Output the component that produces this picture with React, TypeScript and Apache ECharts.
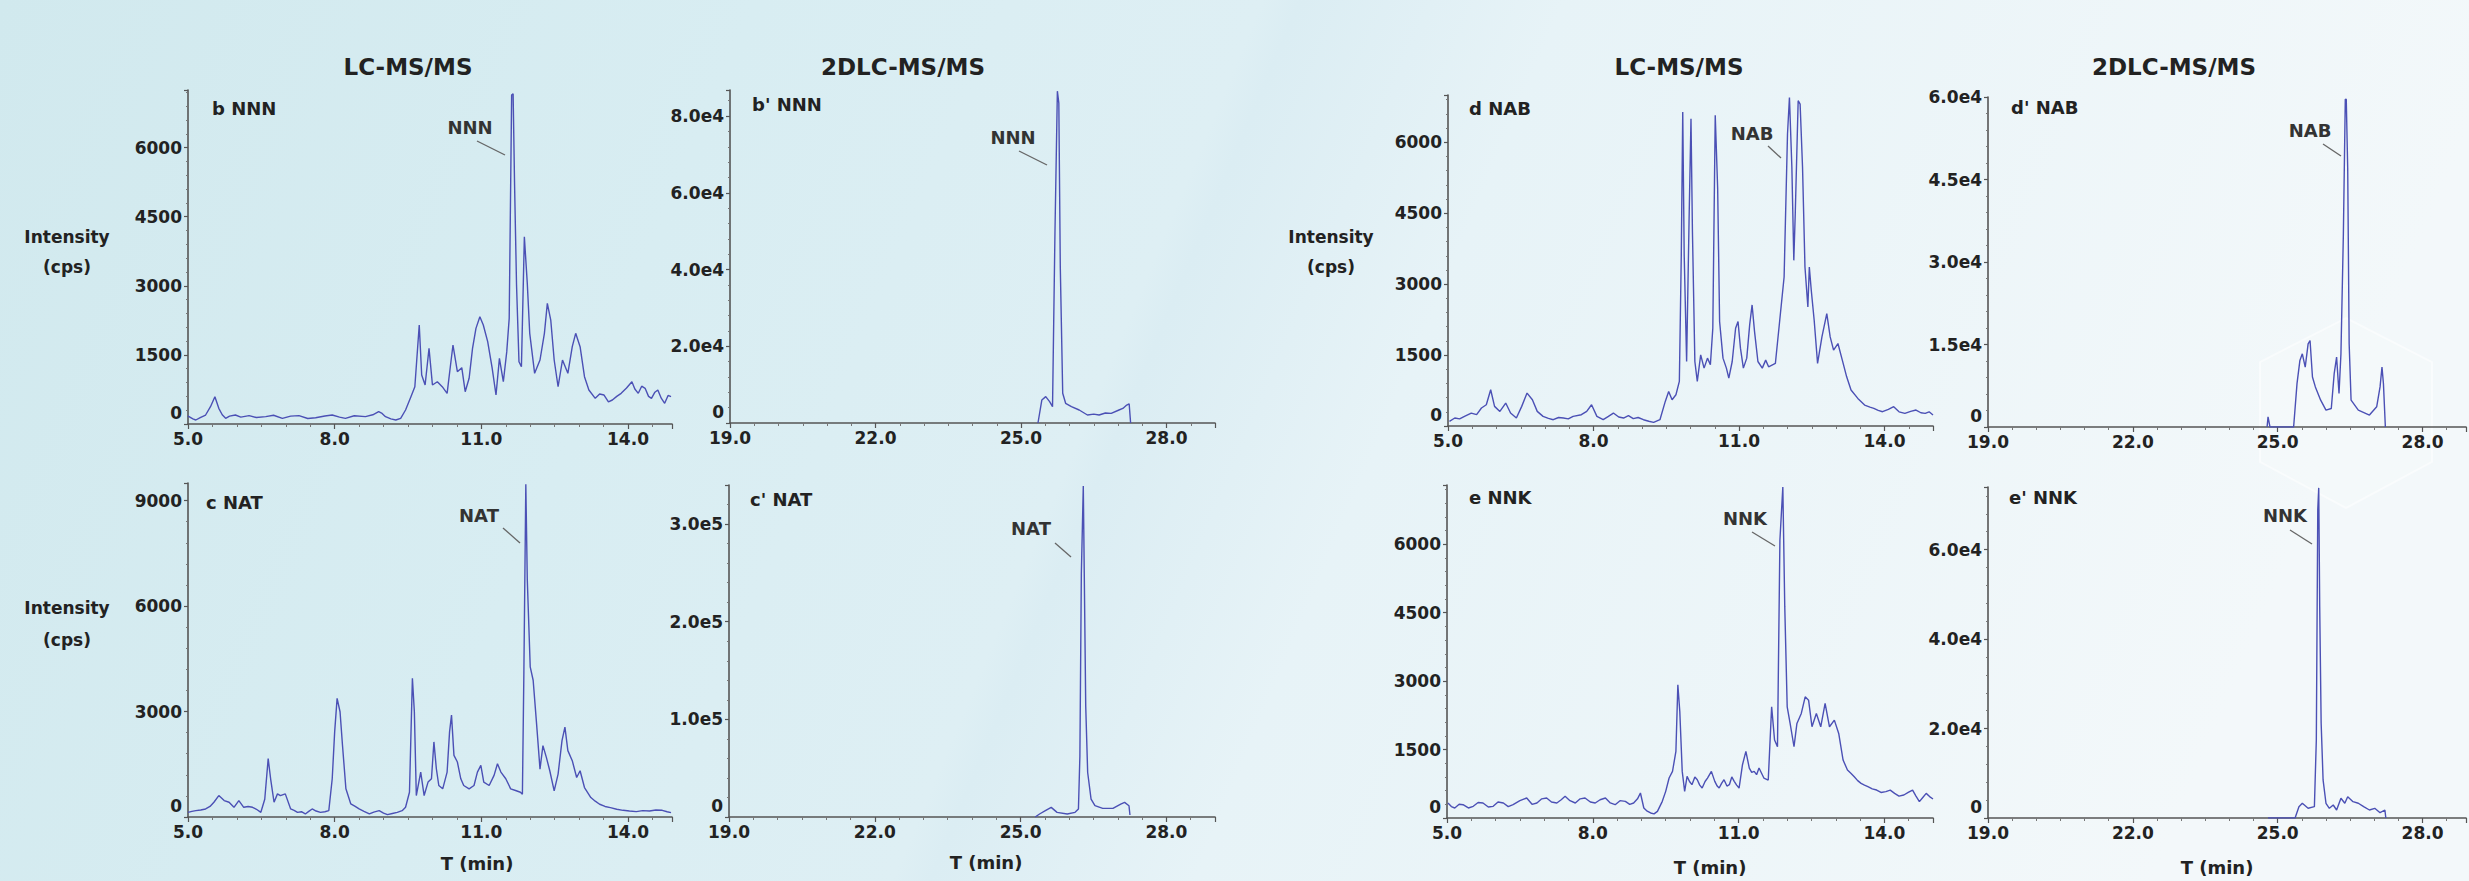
import React, { useEffect, useRef } from "react";
import * as echarts from "echarts";

// ---- data: [time (min), intensity (cps)] ----
const NNN_LC = [[5.0,180],[5.02,159],[5.1,110],[5.16,87],[5.25,140],[5.36,195],[5.46,376],[5.55,593],[5.63,340],[5.7,200],[5.77,123],[5.85,170],[5.97,195],[6.08,150],[6.25,181],[6.4,140],[6.59,159],[6.75,190],[6.93,123],[7.1,170],[7.27,181],[7.45,120],[7.61,137],[7.8,175],[7.95,195],[8.1,150],[8.22,123],[8.4,180],[8.63,159],[8.78,200],[8.9,268],[8.97,230],[9.04,159],[9.15,110],[9.25,87],[9.35,123],[9.45,304],[9.56,593],[9.64,810],[9.73,2148],[9.78,1063],[9.85,846],[9.93,1642],[10.0,846],[10.1,918],[10.2,810],[10.3,666],[10.37,1280],[10.42,1714],[10.51,1135],[10.6,1222],[10.67,701],[10.75,992],[10.82,1642],[10.89,2076],[10.97,2329],[11.04,2148],[11.13,1787],[11.22,1222],[11.3,629],[11.37,1425],[11.45,918],[11.52,1570],[11.57,2293],[11.62,7139],[11.65,7170],[11.68,5186],[11.72,3016],[11.77,1352],[11.82,1244],[11.88,4065],[11.94,3053],[11.99,1968],[12.09,1100],[12.2,1389],[12.29,1968],[12.35,2619],[12.42,2257],[12.49,1389],[12.57,809],[12.66,1389],[12.77,1100],[12.86,1678],[12.93,1968],[13.02,1678],[13.11,1027],[13.2,738],[13.33,557],[13.42,650],[13.51,629],[13.6,480],[13.68,521],[13.77,600],[13.86,666],[13.97,780],[14.08,918],[14.14,760],[14.21,666],[14.28,820],[14.35,775],[14.42,600],[14.48,557],[14.55,690],[14.61,738],[14.68,560],[14.75,449],[14.82,620],[14.88,593]];

const NNN_2D = [[25.35,0],[25.43,6000],[25.51,6870],[25.59,5560],[25.65,4260],[25.7,49460],[25.75,86500],[25.78,83370],[25.81,40770],[25.86,7740],[25.92,5130],[26.04,4260],[26.2,3390],[26.37,2090],[26.5,2300],[26.61,2090],[26.74,2600],[26.86,2520],[27.02,3390],[27.1,3800],[27.18,4690],[27.23,5000],[27.26,0]];

const NAT_LC = [[5.0,133],[5.08,160],[5.16,181],[5.26,200],[5.36,229],[5.45,300],[5.53,419],[5.63,610],[5.74,467],[5.84,419],[5.94,276],[6.04,467],[6.14,276],[6.23,300],[6.32,276],[6.4,220],[6.49,133],[6.57,505],[6.64,1659],[6.69,1087],[6.76,419],[6.83,658],[6.89,610],[6.99,658],[7.1,229],[7.17,190],[7.24,133],[7.32,150],[7.4,86],[7.47,160],[7.54,229],[7.62,170],[7.71,133],[7.8,150],[7.88,181],[7.95,1087],[8.0,2422],[8.05,3375],[8.11,2994],[8.16,2040],[8.23,801],[8.33,372],[8.42,300],[8.5,229],[8.6,160],[8.71,86],[8.8,140],[8.91,181],[9.0,110],[9.08,67],[9.18,100],[9.28,133],[9.38,180],[9.45,276],[9.53,705],[9.59,3947],[9.63,2994],[9.67,610],[9.76,1278],[9.83,610],[9.91,992],[9.98,1087],[10.03,2135],[10.08,1373],[10.13,896],[10.21,801],[10.3,1278],[10.35,2422],[10.39,2898],[10.44,1754],[10.51,1564],[10.58,1087],[10.64,896],[10.75,801],[10.85,896],[10.92,1278],[10.99,1468],[11.05,992],[11.16,896],[11.26,1183],[11.33,1516],[11.4,1278],[11.5,1087],[11.6,801],[11.7,753],[11.8,705],[11.84,648],[11.87,4080],[11.91,9467],[11.94,6750],[12.0,4271],[12.06,3890],[12.13,2650],[12.2,1363],[12.26,2030],[12.33,1697],[12.4,1316],[12.49,744],[12.57,1220],[12.65,2174],[12.71,2555],[12.77,1888],[12.86,1602],[12.95,1125],[13.02,1316],[13.11,839],[13.24,553],[13.33,450],[13.42,362],[13.53,300],[13.64,267],[13.77,220],[13.9,190],[14.03,170],[14.17,153],[14.3,180],[14.44,172],[14.57,200],[14.7,190],[14.8,150],[14.88,124]];

const NAT_2D = [[25.3,0],[25.39,3060],[25.51,6460],[25.63,9860],[25.75,4760],[25.96,3060],[26.12,4760],[26.19,8160],[26.22,62560],[26.25,249560],[26.29,339000],[26.31,249560],[26.34,113560],[26.38,45560],[26.45,18360],[26.53,11560],[26.69,8840],[26.9,8840],[27.06,13260],[27.14,14960],[27.23,11560],[27.25,2040]];

const NAB_LC = [[5.03,98],[5.14,169],[5.24,150],[5.34,204],[5.48,274],[5.59,239],[5.69,380],[5.79,450],[5.88,766],[5.96,415],[6.07,309],[6.19,485],[6.29,274],[6.41,169],[6.52,415],[6.63,696],[6.74,556],[6.84,309],[6.96,204],[7.07,160],[7.17,133],[7.28,180],[7.38,169],[7.48,150],[7.58,204],[7.75,239],[7.86,309],[7.96,450],[8.07,204],[8.2,133],[8.3,200],[8.41,274],[8.52,190],[8.62,169],[8.72,220],[8.82,155],[8.92,180],[9.03,133],[9.14,100],[9.24,77],[9.37,133],[9.48,520],[9.55,731],[9.62,556],[9.7,661],[9.77,943],[9.81,3615],[9.84,6640],[9.87,3615],[9.92,1364],[9.97,4318],[10.01,6499],[10.04,4107],[10.09,1364],[10.14,943],[10.21,1505],[10.28,1224],[10.35,1435],[10.41,1294],[10.46,2068],[10.51,6569],[10.56,5022],[10.6,2209],[10.67,1435],[10.74,1224],[10.79,1013],[10.86,1364],[10.93,2068],[10.98,2209],[11.03,1646],[11.09,1224],[11.16,1435],[11.22,2138],[11.27,2560],[11.32,2000],[11.39,1364],[11.48,1224],[11.55,1393],[11.61,1252],[11.75,1322],[11.84,2237],[11.93,3150],[12.0,6176],[12.04,6948],[12.09,5471],[12.13,3503],[12.16,4488],[12.22,6879],[12.26,6809],[12.31,5471],[12.36,3361],[12.42,2517],[12.45,3361],[12.49,2870],[12.55,2237],[12.62,1322],[12.71,1884],[12.81,2378],[12.88,1884],[12.95,1604],[13.04,1744],[13.13,1393],[13.22,1040],[13.31,760],[13.45,584],[13.59,443],[13.7,400],[13.78,373],[13.87,330],[13.96,302],[14.08,350],[14.19,408],[14.3,300],[14.42,267],[14.54,310],[14.65,338],[14.75,280],[14.84,267],[14.92,300],[15.0,232]];

const NAB_2D = [[24.78,0],[24.8,1860],[24.84,0],[25.33,0],[25.4,7890],[25.46,12110],[25.51,13310],[25.57,10900],[25.63,15120],[25.67,15720],[25.72,9090],[25.78,7290],[25.89,4880],[26.0,3070],[26.11,3370],[26.17,9700],[26.22,12710],[26.27,6080],[26.31,13310],[26.36,35000],[26.4,59570],[26.42,59600],[26.45,47040],[26.48,15120],[26.52,4880],[26.67,3070],[26.9,2170],[27.05,3680],[27.12,7290],[27.16,10900],[27.19,7890],[27.23,0]];

const NNK_LC = [[5.02,329],[5.09,250],[5.16,219],[5.25,300],[5.33,292],[5.44,220],[5.54,256],[5.64,340],[5.74,329],[5.85,240],[5.95,256],[6.05,350],[6.16,329],[6.26,250],[6.36,292],[6.5,380],[6.64,438],[6.75,300],[6.85,329],[6.95,420],[7.05,438],[7.15,350],[7.26,329],[7.35,400],[7.43,475],[7.53,380],[7.64,329],[7.74,420],[7.84,438],[7.95,350],[8.05,329],[8.15,400],[8.26,438],[8.36,330],[8.46,292],[8.56,380],[8.67,365],[8.76,300],[8.84,329],[8.92,420],[8.98,548],[9.05,219],[9.12,150],[9.19,110],[9.26,90],[9.33,146],[9.43,365],[9.5,584],[9.57,876],[9.64,1022],[9.71,1460],[9.75,2920],[9.79,2336],[9.84,1022],[9.89,584],[9.94,913],[9.99,800],[10.04,730],[10.1,900],[10.15,839],[10.2,720],[10.25,657],[10.31,800],[10.36,876],[10.44,1022],[10.51,803],[10.56,700],[10.6,657],[10.65,760],[10.7,839],[10.76,700],[10.81,730],[10.86,900],[10.91,803],[10.96,720],[11.01,657],[11.08,1168],[11.15,1460],[11.22,1095],[11.27,1000],[11.32,1022],[11.37,950],[11.42,1095],[11.52,876],[11.61,832],[11.68,2438],[11.74,1708],[11.8,1562],[11.85,6088],[11.91,7256],[11.95,4628],[12.0,2438],[12.06,2073],[12.14,1562],[12.2,2073],[12.29,2292],[12.37,2657],[12.44,2584],[12.51,2000],[12.6,2292],[12.69,2000],[12.78,2511],[12.87,2000],[12.97,2146],[13.06,1854],[13.15,1270],[13.24,1051],[13.31,980],[13.38,905],[13.45,820],[13.52,759],[13.59,720],[13.66,686],[13.75,640],[13.84,613],[13.93,560],[14.03,577],[14.12,610],[14.21,540],[14.3,480],[14.4,504],[14.49,560],[14.58,613],[14.65,480],[14.72,358],[14.79,450],[14.86,540],[14.93,470],[15.0,416]];

const NNK_2D = [[24.8,0],[25.36,0],[25.44,2530],[25.51,3290],[25.63,2170],[25.76,2530],[25.8,17460],[25.83,68960],[25.85,73800],[25.87,47310],[25.9,21200],[25.94,8510],[26.0,3290],[26.07,2170],[26.15,2910],[26.22,1790],[26.31,4410],[26.39,3290],[26.45,4770],[26.56,3650],[26.67,3290],[26.78,2530],[26.9,1790],[27.01,2170],[27.12,1190],[27.22,1790],[27.24,0]];

const PANEL_LABELS = ["b NNN", "b' NNN", "c NAT", "c' NAT", "d NAB", "d' NAB", "e NNK", "e' NNK"];
const PEAK_NAMES = ["NNN", "NNN", "NAT", "NAT", "NAB", "NAB", "NNK", "NNK"];
const X_INTERVAL = 3;
const Y_INTERVALS = [1500, 20000, 3000, 100000, 1500, 15000, 1500, 20000];
const Y_MAXES = [7250, 86800, 9500, 340000, 7000, 60000, 7300, 74000];
const Y_EXPONENTS = [0, 4, 0, 5, 0, 4, 0, 4];
const X_RANGES = [[5, 14.9], [19, 29], [5, 14.9], [19, 29], [5, 15], [19, 28.9], [5, 15], [19, 28.9]];
const SERIES_DATA = [NNN_LC, NNN_2D, NAT_LC, NAT_2D, NAB_LC, NAB_2D, NNK_LC, NNK_2D];

// ---- layout (pixels) ----
const GRIDS = [
  { left: 188, top: 90, width: 484, height: 334 },
  { left: 730, top: 90, width: 485, height: 333 },
  { left: 188, top: 483, width: 484, height: 334 },
  { left: 729, top: 485, width: 486, height: 332 },
  { left: 1448, top: 95, width: 485, height: 331 },
  { left: 1988, top: 97, width: 481, height: 330 },
  { left: 1447, top: 485, width: 486, height: 333 },
  { left: 1988, top: 487, width: 481, height: 331 },
];
const LABEL_POS = [[212, 108], [752, 104], [206, 502], [750, 499], [1469, 108], [2011, 107], [1469, 497], [2009, 497]];
const PEAK_TEXT_POS = [[470, 127], [1013, 137], [479, 515], [1031, 528], [1752, 133], [2310, 130], [1745, 518], [2285, 515]];
const LEADERS = [
  [477, 141, 505, 155], [1019, 151, 1047, 165], [503, 528, 520, 543], [1055, 543, 1071, 557],
  [1768, 146, 1781, 158], [2323, 144, 2341, 156], [1752, 532, 1775, 546], [2290, 530, 2312, 544],
];

const FONT = "DejaVu Sans";
const TEXT_COLOR = "#222";
const LINE_COLOR = "#4b50b5";

function yFormatter(interval: number, exp: number) {
  return (v: number) => {
    const k = v / interval;
    if (Math.abs(k - Math.round(k)) > 1e-6) return "";
    if (v === 0) return "{z|0}";
    if (exp) return (v / Math.pow(10, exp)).toFixed(1) + "e" + exp;
    return String(Math.round(v));
  };
}
function xFormatter(min: number) {
  return (v: number) => {
    const k = (v - min) / X_INTERVAL;
    if (Math.abs(k - Math.round(k)) > 1e-6) return "";
    return v.toFixed(1);
  };
}

function text(t: string, x: number, y: number, size: number, align = "center", color = TEXT_COLOR) {
  return {
    type: "text",
    silent: true,
    style: { text: t, x, y, fill: color, fontSize: size, fontWeight: "bold", fontFamily: FONT, align, verticalAlign: "middle" },
  };
}

export default function App() {
  const ref = useRef<HTMLDivElement>(null);
  useEffect(() => {
    if (!ref.current) return;
    const chart = echarts.init(ref.current, undefined, { renderer: "svg" });
    const axisLine = { show: true, lineStyle: { color: "#555", width: 1.6 } };
    const labelStyle = { color: TEXT_COLOR, fontSize: 17, fontWeight: "bold", fontFamily: FONT };

    const xAxis = GRIDS.map((_, i) => ({
      type: "value",
      gridIndex: i,
      min: X_RANGES[i][0],
      max: X_RANGES[i][1],
      interval: X_INTERVAL,
      axisLine,
      axisTick: { show: true, length: 5, lineStyle: { color: "#555", width: 1.2 } },
      minorTick: { show: true, splitNumber: 6, length: 3, lineStyle: { color: "#777", width: 1 } },
      splitLine: { show: false },
      axisLabel: { ...labelStyle, margin: 6, formatter: xFormatter(X_RANGES[i][0]) },
    }));
    const yAxis = GRIDS.map((_, i) => ({
      type: "value",
      gridIndex: i,
      min: 0,
      max: Y_MAXES[i],
      interval: Y_INTERVALS[i],
      axisLine,
      axisTick: { show: true, length: 4, lineStyle: { color: "#555", width: 1.2 } },
      minorTick: { show: true, splitNumber: 5, length: 2, lineStyle: { color: "#777", width: 1 } },
      splitLine: { show: false },
      axisLabel: {
        ...labelStyle,
        margin: 6,
        formatter: yFormatter(Y_INTERVALS[i], Y_EXPONENTS[i]),
        rich: { z: { ...labelStyle, padding: [0, 0, 22, 0] } },
      },
    }));
    const series = SERIES_DATA.map((d, i) => ({
      type: "line",
      xAxisIndex: i,
      yAxisIndex: i,
      data: d,
      showSymbol: false,
      symbol: "none",
      lineStyle: { color: LINE_COLOR, width: 1.4 },
      silent: true,
    }));

    const graphic: any[] = [
      {
        type: "polygon",
        silent: true,
        shape: { points: [[2346, 318], [2432, 362], [2432, 462], [2346, 508], [2260, 462], [2260, 362]] },
        style: { fill: "rgba(255,255,255,0.15)", stroke: "rgba(255,255,255,0.5)", lineWidth: 2 },
        z: -1,
      },
      text("LC-MS/MS", 408, 67, 23),
      text("2DLC-MS/MS", 903, 67, 23),
      text("LC-MS/MS", 1679, 67, 23),
      text("2DLC-MS/MS", 2174, 67, 23),
      text("Intensity", 67, 237, 17),
      text("(cps)", 67, 267, 17),
      text("Intensity", 67, 608, 17),
      text("(cps)", 67, 640, 17),
      text("Intensity", 1331, 237, 17),
      text("(cps)", 1331, 267, 17),
      text("T (min)", 477, 863, 18),
      text("T (min)", 986, 862, 18),
      text("T (min)", 1710, 867, 18),
      text("T (min)", 2217, 867, 18),
    ];
    PANEL_LABELS.forEach((l, i) => graphic.push(text(l, LABEL_POS[i][0], LABEL_POS[i][1], 18, "left")));
    PEAK_NAMES.forEach((n, i) => {
      graphic.push(text(n, PEAK_TEXT_POS[i][0], PEAK_TEXT_POS[i][1], 18, "center", "#333"));
      const [x1, y1, x2, y2] = LEADERS[i];
      graphic.push({ type: "line", silent: true, shape: { x1, y1, x2, y2 }, style: { stroke: "#666", lineWidth: 1.3 } });
    });

    chart.setOption({
      animation: false,
      backgroundColor: {
        type: "linear", x: 0, y: 0, x2: 1, y2: 0.15,
        colorStops: [
          { offset: 0, color: "#d1e9ee" },
          { offset: 0.3, color: "#d8edf2" },
          { offset: 0.5, color: "#deeff4" },
          { offset: 0.515, color: "#dbedf3" },
          { offset: 0.62, color: "#e7f3f7" },
          { offset: 1, color: "#f3f8fa" },
        ],
      },
      grid: GRIDS.map((g) => ({ ...g, containLabel: false })),
      xAxis,
      yAxis,
      series,
      graphic,
    });
    return () => chart.dispose();
  }, []);
  return <div ref={ref} style={{ position: "absolute", left: 0, top: 0, width: 2469, height: 881 }} />;
}
